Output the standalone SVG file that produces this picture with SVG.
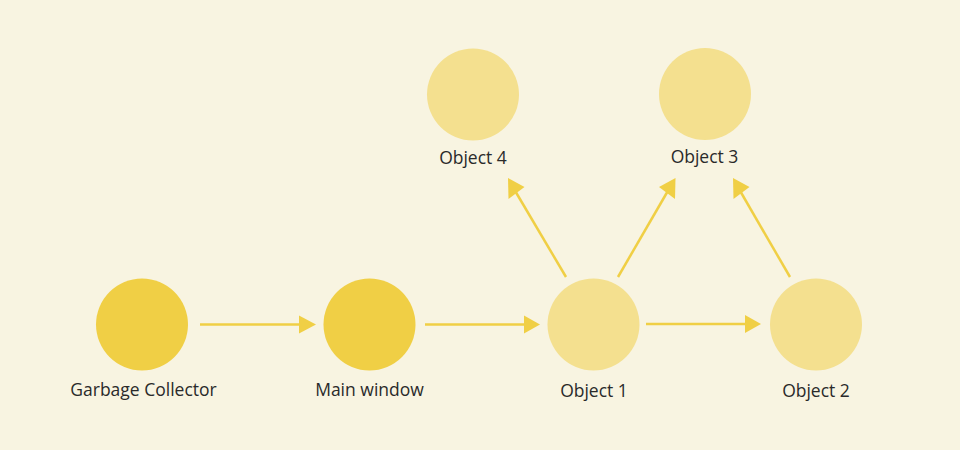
<svg xmlns="http://www.w3.org/2000/svg" width="960" height="450" viewBox="0 0 960 450">
  <style>
    .dark { fill: #F0CF45; }
    .light { fill: #F4E08F; }
    .lbl { font-family: "Open Sans", "Liberation Sans", sans-serif; font-size: 17.5px; font-weight: 400; fill: #2A2A2A; text-anchor: middle; }
    .edge { stroke: #F0CF45; stroke-width: 2.5; fill: none; }
    .head { fill: #F0CF45; }
  </style>
  <rect x="0" y="0" width="960" height="450" fill="#F8F4E1"/>
  <g id="connectors">
    <line class="edge" x1="200" y1="324.5" x2="300" y2="324.5"/>
    <polygon class="head" points="299,315.5 316,324.5 299,333.5"/>
    <line class="edge" x1="425" y1="324.5" x2="525" y2="324.5"/>
    <polygon class="head" points="524,315.5 540,324.5 524,333.5"/>
    <line class="edge" x1="646" y1="324" x2="746" y2="324"/>
    <polygon class="head" points="745,315 761,324 745,333"/>
    <line class="edge" x1="566" y1="277" x2="514" y2="189"/>
    <polygon class="head" points="508,178 524.5,187 508.5,199"/>
    <line class="edge" x1="618" y1="277" x2="669" y2="189"/>
    <polygon class="head" points="675.5,178 659,187 675,199"/>
    <line class="edge" x1="790" y1="277" x2="739" y2="189"/>
    <polygon class="head" points="733,178 749.5,187 733.5,199"/>
  </g>
  <g id="gc">
    <circle class="dark" cx="142" cy="324.5" r="46"/>
    <text class="lbl" x="143.5" y="395.5">Garbage Collector</text>
  </g>
  <g id="main-window">
    <circle class="dark" cx="369.5" cy="324.5" r="46"/>
    <text class="lbl" x="369.5" y="395.5">Main window</text>
  </g>
  <g id="object1">
    <circle class="light" cx="593.5" cy="324.5" r="46"/>
    <text class="lbl" x="594" y="396.5">Object 1</text>
  </g>
  <g id="object2">
    <circle class="light" cx="816" cy="324.5" r="46"/>
    <text class="lbl" x="816" y="396.5">Object 2</text>
  </g>
  <g id="object4">
    <circle class="light" cx="473" cy="94.5" r="46"/>
    <text class="lbl" x="473" y="164">Object 4</text>
  </g>
  <g id="object3">
    <circle class="light" cx="705" cy="94" r="46"/>
    <text class="lbl" x="704.5" y="163">Object 3</text>
  </g>
</svg>
